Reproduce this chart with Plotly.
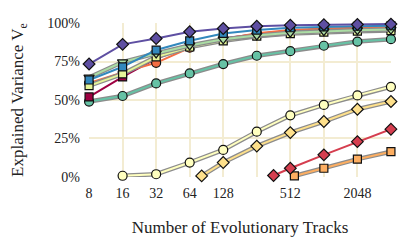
import plotly.graph_objects as go
import math

tracks = [8, 16, 32, 64, 128, 256, 512, 1024, 2048, 4096]

purple = [73.4, 86.2, 90.0, 94.4, 96.5, 98.0, 98.7, 99.0, 99.1, 99.4]
blue = [63.0, 71.6, 82.5, 88.5, 93.3, 95.5, 97.0, 97.6, 98.0, 98.3]
lgreen = [64.7, 74.7, 80.3, 85.5, 89.5, 92.0, 93.8, 94.8, 95.4, 95.8]
ygreen = [59.3, 67.0, 78.0, 84.5, 88.5, 91.5, 93.2, 94.2, 94.8, 95.2]
orange_red = [61.0, 68.0, 74.2, 84.0, 89.5, 93.5, 95.5, 96.5, 97.0, 97.5]
dark_red = [52.0, 65.0, 77.0, 85.0, 90.0, 93.0, 95.0, 96.0, 96.5, 97.0]
teal = [49.0, 52.6, 60.8, 67.3, 73.4, 78.8, 81.8, 85.3, 88.0, 89.6]

pale_x = [16, 32, 64, 128, 256, 512, 1024, 2048, 4096]
pale = [0.7, 1.7, 9.3, 17.5, 29.4, 40.0, 46.8, 53.0, 58.6]
lorange_x = [82, 128, 256, 512, 1024, 2048, 4096]
lorange = [0.6, 9.3, 20.0, 28.8, 36.0, 44.0, 49.0]
red_x = [362, 512, 1024, 2048, 4096]
red = [0.9, 5.6, 14.3, 22.9, 31.0]
orange_x = [557, 1024, 2048, 4096]
orange = [0.6, 5.6, 11.5, 16.4]

x_ticks = [8, 16, 32, 64, 128, 512, 2048]
x_tick_text = ["8", "16", "32", "64", "128", "512", "2048"]
x_grid = [16, 32, 64, 128, 256, 512, 1024, 2048]
y_ticks = [0, 0.25, 0.5, 0.75, 1.0]
y_tick_text = ["0%", "25%", "50%", "75%", "100%"]
y_grid = [0.25, 0.5, 0.75]

series = [
    # name, x, y, color, symbol, halo
    ("teal", tracks, teal, "#66c2a5", "circle", True),
    ("pale", pale_x, pale, "#ffffbf", "circle", True),
    ("lorange", lorange_x, lorange, "#fee08b", "diamond", True),
    ("orange", orange_x, orange, "#fdae61", "square", True),
    ("red", red_x, red, "#d53e4f", "diamond", False),
    ("dark_red", tracks, dark_red, "#9e0142", "square", False),
    ("orange_red", tracks, orange_red, "#f46d43", "circle", False),
    ("ygreen", tracks, ygreen, "#e6f598", "square", True),
    ("lgreen", tracks, lgreen, "#abdda4", "triangle-down", True),
    ("blue", tracks, blue, "#3288bd", "square", False),
    ("purple", tracks, purple, "#5e4fa2", "diamond", False),
]

fig = go.Figure()
for name, xs, ys, col, sym, halo in series:
    yv = [v / 100 for v in ys]
    if halo:
        fig.add_trace(go.Scatter(x=xs, y=yv, mode="lines",
                                 line=dict(color="#8c8c8c", width=4.5),
                                 hoverinfo="skip", showlegend=False, cliponaxis=False))
    size = 9 if sym in ("diamond", "circle", "triangle-down") else 8
    fig.add_trace(go.Scatter(x=xs, y=yv, mode="lines+markers", name=name,
                             line=dict(color=col, width=2),
                             marker=dict(color=col, symbol=sym, size=size,
                                         line=dict(color="#111111", width=1.2)),
                             showlegend=False, cliponaxis=False))

font = dict(family="Liberation Serif, DejaVu Serif, serif", size=14, color="#222222")
grid_col = "#f3ecd2"
eps = 0.0005

fig.update_layout(
    width=407, height=240,
    margin=dict(l=81, r=24, t=15, b=71),
    paper_bgcolor="white", plot_bgcolor="white",
    font=font,
    showlegend=False,
    xaxis=dict(
        type="log",
        range=[math.log10(8) - eps, math.log10(4096) + eps],
        tickmode="array",
        tickvals=x_ticks,
        ticktext=x_tick_text,
        showgrid=False, zeroline=False, showline=False,
        ticks="", ticklabelstandoff=6,
        automargin=False,
        minor=dict(tickmode="array", tickvals=x_grid,
                   showgrid=True, gridcolor=grid_col, gridwidth=2, ticks=""),
        title=dict(text="Number of Evolutionary Tracks", standoff=21),
    ),
    yaxis=dict(
        range=[-0.001, 1.001],
        tickmode="array",
        tickvals=y_ticks,
        ticktext=y_tick_text,
        showgrid=False, zeroline=False, showline=False,
        ticks="", ticklabelstandoff=8,
        automargin=False,
        minor=dict(tickmode="array", tickvals=y_grid,
                   showgrid=True, gridcolor=grid_col, gridwidth=2, ticks=""),
        title=dict(text="Explained Variance V<sub>e</sub>", standoff=23),
    ),
)

fig.write_html("out.html")
